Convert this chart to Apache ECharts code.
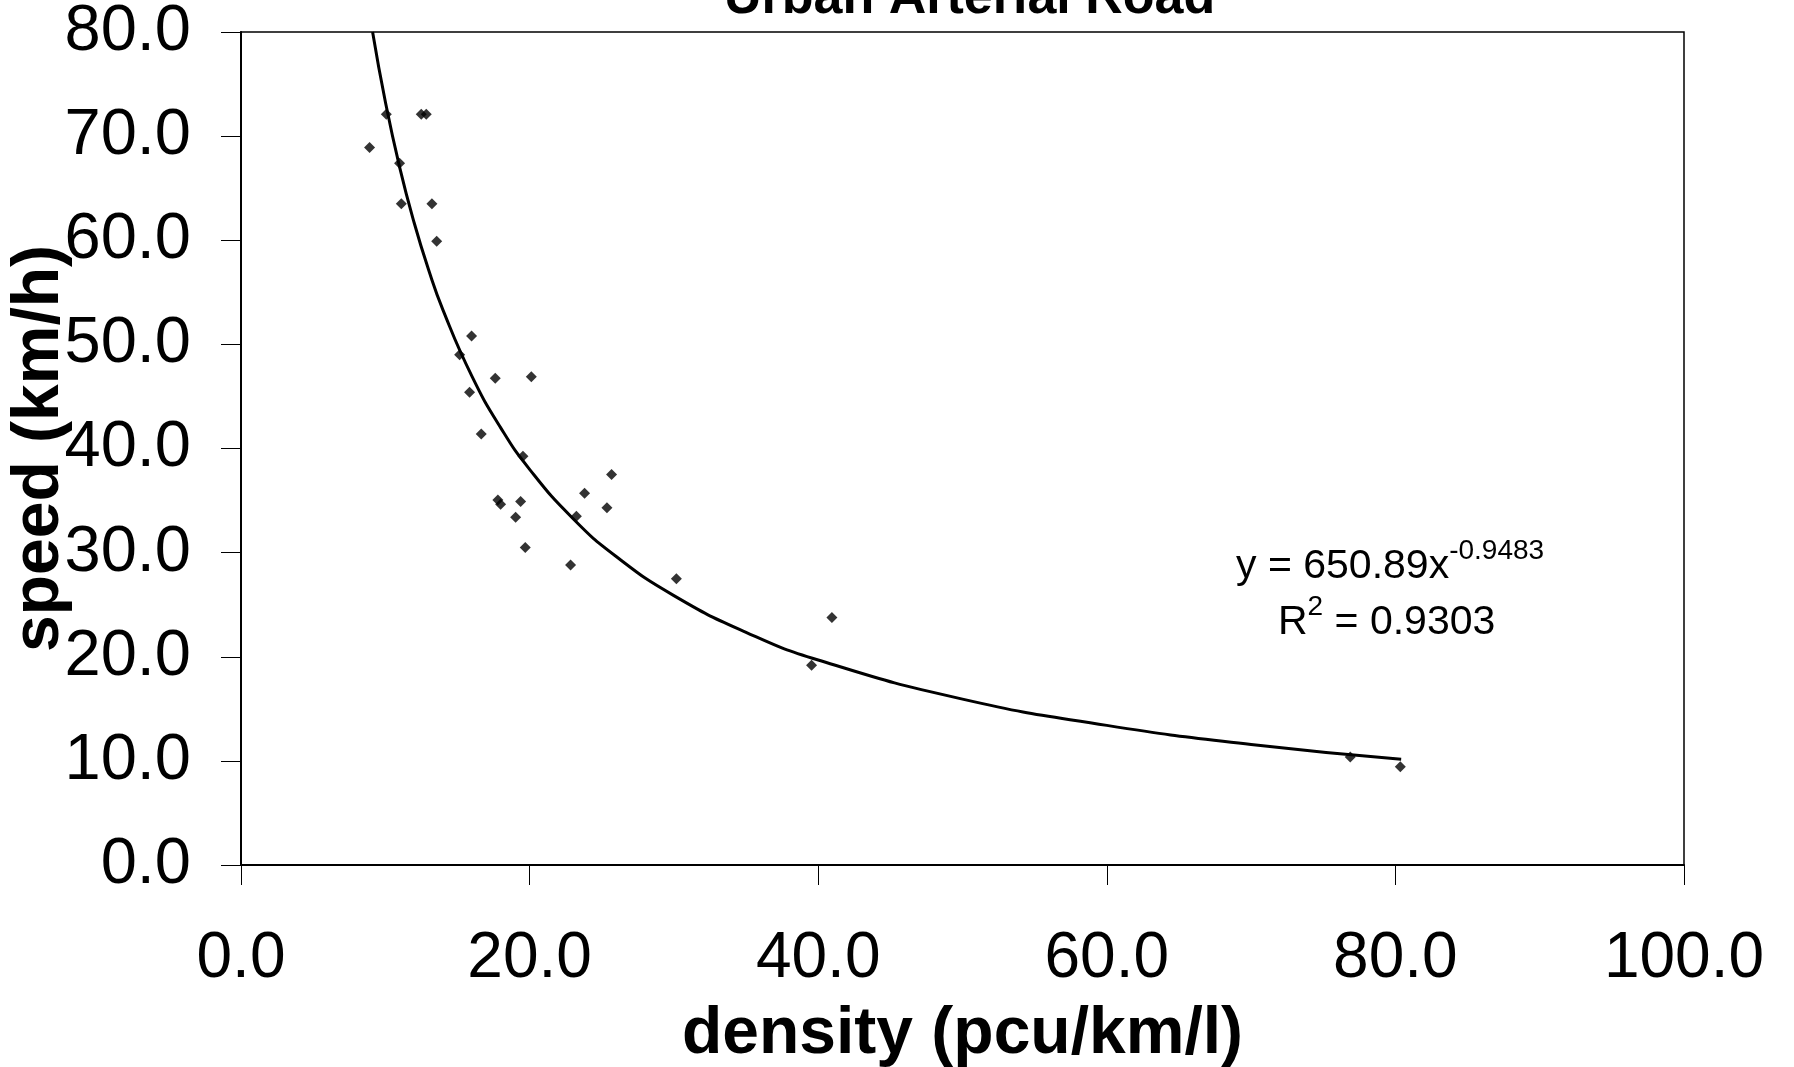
<!DOCTYPE html>
<html>
<head>
<meta charset="utf-8">
<style>
  html, body { margin: 0; padding: 0; background: #fff; }
  #main { width: 1794px; height: 1067px; }
</style>
<script src="https://cdn.jsdelivr.net/npm/echarts@6/dist/echarts.min.js"></script>
</head>
<body>
<div id="main"></div>
<script>
// observed points, density (pcu/km/l) vs speed (km/h)
const density = [10.07, 12.49, 12.84, 8.91, 10.99, 11.11, 13.23, 13.56, 15.98, 15.15,
  17.62, 20.12, 15.84, 16.65, 19.54, 25.68, 23.81, 17.80, 17.99, 19.38,
  25.36, 19.03, 23.24, 19.70, 22.84, 30.17, 40.95, 39.54, 76.87, 80.34];
const speed = [72.1, 72.1, 72.1, 68.9, 67.4, 63.5, 63.5, 59.9, 50.8, 49.0,
  46.75, 46.9, 45.4, 41.4, 39.26, 37.5, 35.7, 35.06, 34.65, 34.9,
  34.3, 33.4, 33.5, 30.5, 28.8, 27.5, 23.76, 19.18, 10.37, 9.44];

// power trendline as drawn
const trendX = [9.12, 10, 11, 12, 13, 14, 16, 18, 20, 23, 26, 30, 35, 40, 50, 60, 70, 80.4];
const trendY = [80.0, 73.32, 66.98, 61.68, 57.17, 53.29, 46.95, 41.98, 38.00, 33.28,
  29.63, 25.87, 22.35, 19.69, 15.93, 13.41, 11.58, 10.16];

const eqText = 'y = 650.89x';
const eqExp = '-0.9483';
const r2Text = '0.9303';

const font = 'Liberation Sans, Arial, sans-serif';

let myChart = echarts.init(document.getElementById('main'));

const eqRich = {
  m: { fontFamily: font, fontSize: 41, color: '#000', lineHeight: 50, verticalAlign: 'bottom' },
  s: { fontFamily: font, fontSize: 28, color: '#000', lineHeight: 50, verticalAlign: 'top' }
};

myChart.setOption({
  backgroundColor: '#fff',
  animation: false,
  title: {
    text: 'Urban Arterial Road',
    left: 719,
    top: -32,
    textStyle: { fontFamily: font, fontSize: 52, fontWeight: 'bold', color: '#000' }
  },
  grid: {
    left: 241, right: 110, top: 32, bottom: 202,
    outerBoundsMode: 'none',
    containLabel: false,
    show: true, borderColor: '#000', borderWidth: 1.5
  },
  xAxis: {
    type: 'value',
    min: 0, max: 100, interval: 20,
    name: 'density (pcu/km/l)',
    nameLocation: 'middle',
    nameGap: 137,
    nameMoveOverlap: false,
    nameTextStyle: { fontFamily: font, fontSize: 66, fontWeight: 'bold', color: '#000' },
    axisLine: { lineStyle: { color: '#000', width: 2 } },
    axisTick: { length: 20, lineStyle: { color: '#000', width: 1 } },
    axisLabel: {
      margin: 62, fontFamily: font, fontSize: 64, color: '#000',
      formatter: v => v.toFixed(1)
    },
    splitLine: { show: false }
  },
  yAxis: {
    type: 'value',
    min: 0, max: 80, interval: 10,
    name: 'speed (km/h)',
    nameLocation: 'middle',
    nameGap: 168,
    nameMoveOverlap: false,
    nameTextStyle: { fontFamily: font, fontSize: 66, fontWeight: 'bold', color: '#000' },
    axisLine: { lineStyle: { color: '#000', width: 2 } },
    axisTick: { length: 20, lineStyle: { color: '#000', width: 1 } },
    axisLabel: {
      margin: 50, fontFamily: font, fontSize: 65, color: '#000',
      formatter: v => v.toFixed(1)
    },
    splitLine: { show: false }
  },
  graphic: [
    {
      type: 'text',
      left: 1236, top: 537,
      style: { text: '{m|' + eqText + '}{s|' + eqExp + '}', rich: eqRich }
    },
    {
      type: 'text',
      left: 1278, top: 593,
      style: { text: '{m|R}{s|2}{m| = ' + r2Text + '}', rich: eqRich }
    }
  ],
  series: [
    {
      type: 'scatter',
      symbol: 'diamond',
      symbolSize: 11,
      itemStyle: { color: '#000' },
      data: density.map((d, i) => [d, speed[i]]),
      z: 3
    },
    {
      type: 'line',
      smooth: true,
      showSymbol: false,
      lineStyle: { color: '#000', width: 3 },
      data: trendX.map((d, i) => [d, trendY[i]]),
      z: 2
    }
  ]
});
window.addEventListener('resize', function () {
  myChart.resize();
});
</script>
</body>
</html>
